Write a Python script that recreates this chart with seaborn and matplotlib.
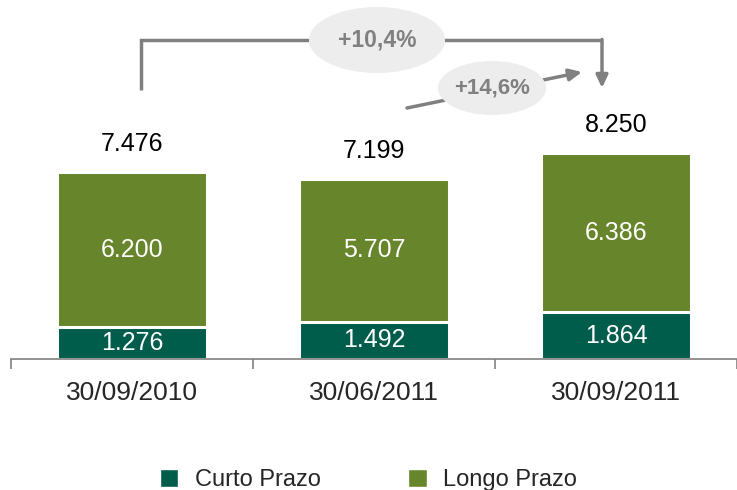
import matplotlib
matplotlib.use("Agg")
import matplotlib.pyplot as plt
from matplotlib.patches import Ellipse, Patch
import seaborn as sns
import pandas as pd

# dados
datas = ["30/09/2010", "30/06/2011", "30/09/2011"]
curto = [1276, 1492, 1864]
longo = [6200, 5707, 6386]
curto_lbl = ["1.276", "1.492", "1.864"]
longo_lbl = ["6.200", "5.707", "6.386"]
total_lbl = ["7.476", "7.199", "8.250"]

COR_CURTO = "#005C4B"
COR_LONGO = "#67852A"
CINZA = "#808080"

sns.set_style("white")
plt.rcParams["font.family"] = ["Liberation Sans", "DejaVu Sans"]

df = pd.DataFrame({"data": datas, "curto": curto, "longo": longo})
df["total"] = df["curto"] + df["longo"]

fig = plt.figure(figsize=(7.37, 4.9), dpi=100)
ax = fig.add_axes([11 / 737, 131 / 490, 726 / 737, 359 / 490])

sns.barplot(data=df, x="data", y="total", color=COR_LONGO, width=0.62,
            edgecolor="white", linewidth=2.2, saturation=1, ax=ax)
sns.barplot(data=df, x="data", y="curto", color=COR_CURTO, width=0.62,
            edgecolor="white", linewidth=2.2, saturation=1, ax=ax)

ax.set_xlim(-0.5, 2.5)
ax.set_ylim(0, 14360)

for i in range(len(datas)):
    ax.text(i, curto[i] / 2, curto_lbl[i], ha="center", va="center",
            color="white", fontsize=18)
    ax.text(i, curto[i] + longo[i] / 2, longo_lbl[i], ha="center", va="center",
            color="white", fontsize=18)
    ax.text(i, curto[i] + longo[i] + 1130, total_lbl[i], ha="center",
            va="center", color="black", fontsize=18)

# eixos
for s in ["top", "right", "left"]:
    ax.spines[s].set_visible(False)
ax.spines["bottom"].set_color(CINZA)
ax.spines["bottom"].set_linewidth(1.2)
ax.spines["bottom"].set_zorder(5)
ax.set_yticks([])
ax.set_xlabel("")
ax.set_ylabel("")
ax.tick_params(axis="x", which="major", length=0, pad=16, labelsize=19)
ax.set_xticks([-0.5, 0.5, 1.5, 2.5], minor=True)
ax.tick_params(axis="x", which="minor", bottom=True, direction="out",
               length=7, width=1.2, color=CINZA)


def px(x, y):
    # pixel da imagem -> coordenada de dados
    return (x - 11) / 242.0 - 0.5, (359 - y) / 0.025


seta = dict(arrowstyle="-|>,head_length=0.75,head_width=0.35",
            color=CINZA, lw=2.5, shrinkA=0, shrinkB=0)

# seta +10,4%
x0, y0 = px(141, 90)
x1, y1 = px(141, 40)
x2, y2 = px(602, 40)
x3, y3 = px(602, 88)
ax.plot([x0, x1, x2], [y0, y1, y2], color=CINZA, lw=2.5,
        solid_capstyle="butt", solid_joinstyle="miter", clip_on=False)
ax.annotate("", xy=(x3, y3), xytext=(x2, y2 + 20), annotation_clip=False,
            arrowprops=seta)
cx, cy = px(377, 40)
ax.add_patch(Ellipse((cx, cy), 136 / 242.0, 66 / 0.025, facecolor="#EDEDED",
                     edgecolor="none", clip_on=False, zorder=3))
ax.text(cx, cy, "+10,4%", ha="center", va="center", color=CINZA,
        fontsize=16.5, fontweight="bold", zorder=4)

# seta +14,6%
a0 = px(407, 108)
a1 = px(582, 72)
ax.annotate("", xy=a1, xytext=a0, annotation_clip=False, arrowprops=seta)
cx, cy = px(492, 88)
ax.add_patch(Ellipse((cx, cy), 108 / 242.0, 54 / 0.025, facecolor="#EDEDED",
                     edgecolor="none", clip_on=False, zorder=3))
ax.text(cx, cy, "+14,6%", ha="center", va="center", color=CINZA,
        fontsize=16, fontweight="bold", zorder=4)

# legenda
handles = [Patch(facecolor=COR_CURTO, label="Curto Prazo"),
           Patch(facecolor=COR_LONGO, label="Longo Prazo")]
fig.legend(handles=handles, loc="center", bbox_to_anchor=(0.5, 10 / 490),
           ncol=2, frameon=False, fontsize=17, handlelength=0.78,
           handleheight=0.78, handletextpad=0.7, columnspacing=3.7)

fig.savefig("out.png", dpi=100)
